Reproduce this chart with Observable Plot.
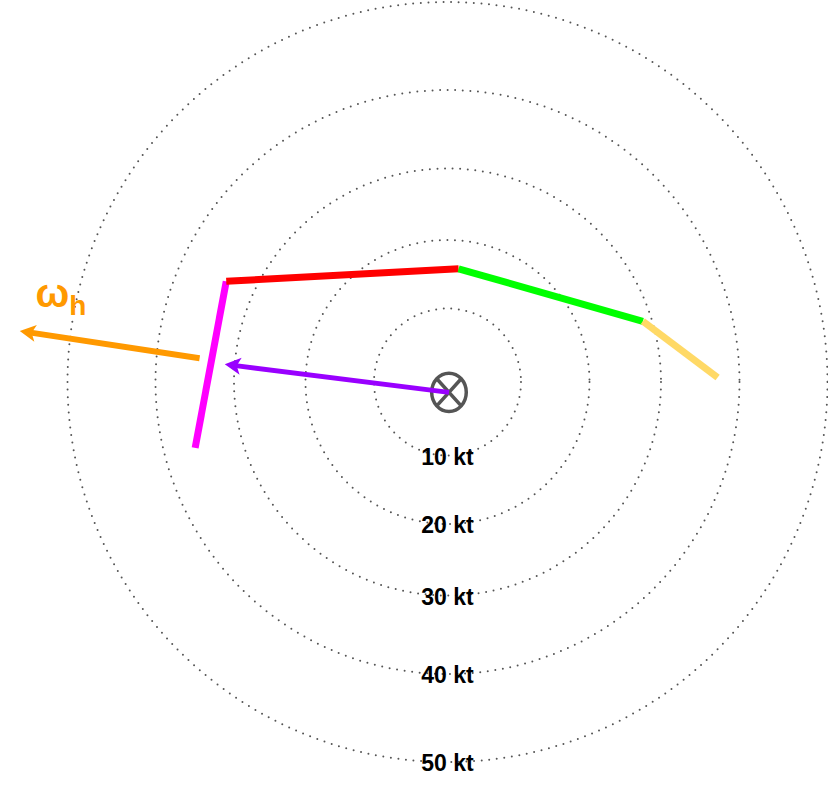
<!DOCTYPE html>
<html>
<head>
<meta charset="utf-8">
<script src="https://cdn.jsdelivr.net/npm/d3@7"></script>
<script src="https://cdn.jsdelivr.net/npm/@observablehq/plot@0.6"></script>
<style>
  html, body { margin: 0; padding: 0; background: #fff; }
  #chart svg { display: block; }
</style>
</head>
<body>
<div id="chart"></div>
<script>
// ---- data (knots) ----
const ringKt = [10, 20, 30, 40, 50];
const ringLabels = ["10 kt", "20 kt", "30 kt", "40 kt", "50 kt"];

// hodograph points (u, v in kt) and colours of the layers between them
const hodoU = [-34.1, -29.9, 1.5, 26.4, 36.5];
const hodoV = [-8.9, 13.6, 15.3, 8.2, 0.6];
const layerColors = ["#FF00FF", "#FF0000", "#00FF00", "#FFD966"];

// storm motion origin (⊗) and mean-wind vector tip
const stormU = [0.2], stormV = [-1.4];
const meanTipU = [-30.1], meanTipV = [2.4];

// horizontal vorticity vector ω_h
const omegaTailU = [-33.5], omegaTailV = [3.2];
const omegaTipU = [-57.8], omegaTipV = [6.9];
const omegaLabel = {main: "ω", sub: "h", u: -53.4, v: 11.9, subU: -51.1, subV: 10.2};

// ---- layout ----
const W = 828, H = 796;
const K = 7.4;              // px per kt
const CX = 447, CY = 381.5; // pixel of (0,0)
// ring radii (px) per ring value — rings are not perfectly evenly spaced
const ringScale = d3.scaleLinear().domain([0, 10, 20, 30, 40, 50]).range([0, 73.5, 142, 213.5, 292, 380]);

// ---- derived tables ----
const rings = ringKt.map((k, i) => ({k, label: ringLabels[i]}));
const segs = layerColors.map((c, i) => ({x1: hodoU[i], y1: hodoV[i], x2: hodoU[i + 1], y2: hodoV[i + 1], c}));

function arrow(tu, tv, hu, hv, color) {
  const du = hu - tu, dv = hv - tv, len = Math.hypot(du, dv);
  const back = 11 / K;
  return {x1: tu, y1: tv, x2: hu - du / len * back, y2: hv - dv / len * back,
          hx: hu, hy: hv, rot: Math.atan2(du, dv) * 180 / Math.PI, c: color};
}
const arrows = [
  arrow(omegaTailU[0], omegaTailV[0], omegaTipU[0], omegaTipV[0], "#FF9900"),
  arrow(stormU[0], stormV[0], meanTipU[0], meanTipV[0], "#9900FF")
];

// custom symbols
const headSymbol = {
  draw(ctx) {
    const L = 16, Wd = 8.5, notch = 4;
    ctx.moveTo(0, 0);
    ctx.lineTo(Wd, L);
    ctx.lineTo(0, L - notch);
    ctx.lineTo(-Wd, L);
    ctx.closePath();
  }
};
const stormSymbol = {
  draw(ctx) {
    const rx = 17.3, ry = 19.2, k = 0.5523;
    ctx.moveTo(rx, 0);
    ctx.bezierCurveTo(rx, ry * k, rx * k, ry, 0, ry);
    ctx.bezierCurveTo(-rx * k, ry, -rx, ry * k, -rx, 0);
    ctx.bezierCurveTo(-rx, -ry * k, -rx * k, -ry, 0, -ry);
    ctx.bezierCurveTo(rx * k, -ry, rx, -ry * k, rx, 0);
    ctx.closePath();
    const a = Math.SQRT1_2;
    ctx.moveTo(-rx * a, -ry * a); ctx.lineTo(rx * a, ry * a);
    ctx.moveTo(rx * a, -ry * a); ctx.lineTo(-rx * a, ry * a);
  }
};

const font = "'Liberation Sans', Arial, sans-serif";

const chart = Plot.plot({
  width: W,
  height: H,
  margin: 0,
  x: {domain: [-CX / K, (W - CX) / K], axis: null},
  y: {domain: [-(H - CY) / K, CY / K], axis: null},
  r: {type: "identity"},
  style: {fontFamily: font, background: "#fff"},
  marks: [
    Plot.dot(rings, {x: () => 0, y: () => 0, r: d => ringScale(d.k), stroke: "#555",
      strokeWidth: 2, strokeDasharray: "0 7.6", strokeLinecap: "round", fill: "none"}),
    Plot.text(rings, {x: () => 0, y: d => -ringScale(d.k) / K, text: "label", dy: 2,
      fontSize: 23, fontWeight: "bold", fill: "#000", lineAnchor: "middle"}),
    Plot.link(segs, {x1: "x1", y1: "y1", x2: "x2", y2: "y2", stroke: "c", strokeWidth: 7, strokeLinecap: "butt"}),
    Plot.link([arrows[0]], {x1: "x1", y1: "y1", x2: "x2", y2: "y2", stroke: "c", strokeWidth: 6, strokeLinecap: "butt"}),
    Plot.dot([arrows[0]], {x: "hx", y: "hy", rotate: "rot", symbol: headSymbol, r: 8, fill: "c", stroke: "none"}),
    Plot.dot(stormU.map((u, i) => ({u, v: stormV[i]})), {x: "u", y: "v", symbol: stormSymbol, r: 10,
      fill: "none", stroke: "#555", strokeWidth: 3.5}),
    Plot.link([arrows[1]], {x1: "x1", y1: "y1", x2: "x2", y2: "y2", stroke: "c", strokeWidth: 5, strokeLinecap: "butt"}),
    Plot.dot([arrows[1]], {x: "hx", y: "hy", rotate: "rot", symbol: headSymbol, r: 8, fill: "c", stroke: "none"}),
    Plot.text([omegaLabel], {x: "u", y: "v", text: "main", fontSize: 40, fontWeight: "bold", fill: "#FF9900", lineAnchor: "middle"}),
    Plot.text([omegaLabel], {x: "subU", y: "subV", text: "sub", fontSize: 28, fontWeight: "bold", fill: "#FF9900", textAnchor: "start", lineAnchor: "middle"})
  ]
});
document.getElementById("chart").appendChild(chart);
</script>
</body>
</html>
